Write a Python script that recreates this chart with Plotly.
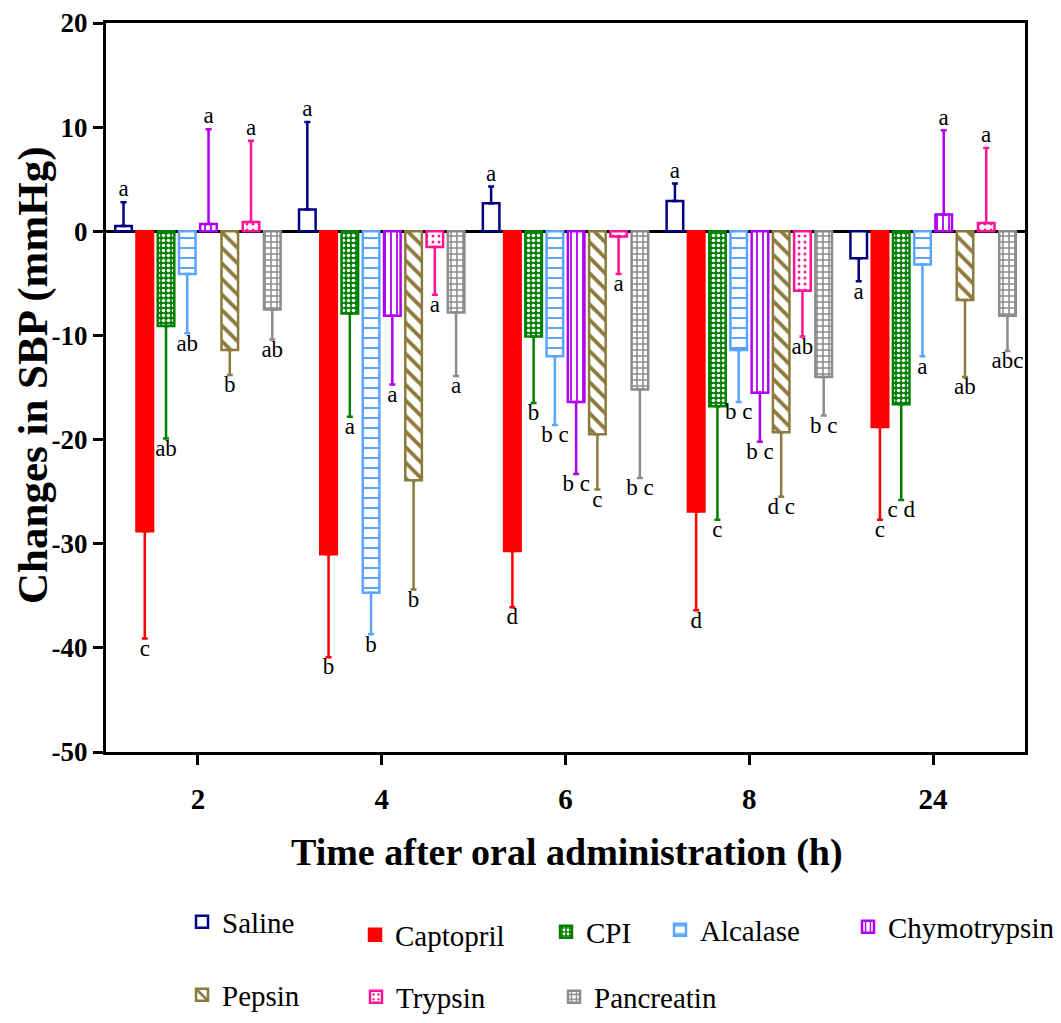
import plotly.graph_objects as go

times = ["2", "4", "6", "8", "24"]
series = ["Saline", "Captopril", "CPI", "Alcalase", "Chymotrypsin", "Pepsin", "Trypsin", "Pancreatin"]
y_tick_vals = [20, 10, 0, -10, -20, -30, -40, -50]
y_tick_text = ["20", "10", "0", "-10", "-20", "-30", "-40", "-50"]

saline = [0.5, 2.1, 2.7, 2.9, -2.6]
saline_err = [2.3, 8.4, 1.6, 1.7, 2.2]
saline_lbl = ["a", "a", "a", "a", "a"]

captopril = [-28.8, -31.0, -30.7, -26.9, -18.8]
captopril_err = [10.3, 9.9, 5.4, 9.5, 8.9]
captopril_lbl = ["c", "b", "d", "d", "c"]

cpi = [-9.1, -7.9, -10.1, -16.8, -16.6]
cpi_err = [10.8, 9.9, 6.4, 10.9, 9.2]
cpi_lbl = ["ab", "a", "b", "c", "c d"]

alcalase = [-4.1, -34.7, -12.0, -11.4, -3.2]
alcalase_err = [5.7, 4.0, 6.6, 5.0, 8.8]
alcalase_lbl = ["ab", "b", "b c", "b c", "a"]

chymotrypsin = [0.7, -8.1, -16.4, -15.5, 1.6]
chymotrypsin_err = [9.1, 6.6, 6.9, 4.7, 8.1]
chymotrypsin_lbl = ["a", "a", "b c", "b c", "a"]

pepsin = [-11.4, -23.9, -19.5, -19.3, -6.6]
pepsin_err = [2.4, 10.5, 5.3, 6.2, 7.4]
pepsin_lbl = ["b", "b", "c", "d c", "ab"]

trypsin = [0.9, -1.5, -0.5, -5.7, 0.8]
trypsin_err = [7.8, 4.6, 3.6, 4.4, 7.2]
trypsin_lbl = ["a", "a", "a", "ab", "a"]

pancreatin = [-7.5, -7.8, -15.2, -14.0, -8.1]
pancreatin_err = [2.9, 6.1, 8.5, 3.7, 3.4]
pancreatin_lbl = ["ab", "a", "b c", "b c", "abc"]

values = [saline, captopril, cpi, alcalase, chymotrypsin, pepsin, trypsin, pancreatin]
errors = [saline_err, captopril_err, cpi_err, alcalase_err, chymotrypsin_err, pepsin_err, trypsin_err, pancreatin_err]
letters = [saline_lbl, captopril_lbl, cpi_lbl, alcalase_lbl, chymotrypsin_lbl, pepsin_lbl, trypsin_lbl, pancreatin_lbl]

colors = ["#000080", "#FF0000", "#008000", "#5AA5FF", "#B000F0", "#8C7B3C", "#FF1493", "#8C8C8C"]
fills = ["white", "#FF0000", "#008000", "white", "white", "white", "white", "white"]
patterns = [
    dict(shape=""),
    dict(shape=""),
    dict(shape=".", bgcolor="#008000", fgcolor="white", size=5, solidity=0.4, fillmode="replace"),
    dict(shape="-", bgcolor="white", fgcolor="#5AA5FF", size=10, solidity=0.2, fillmode="replace"),
    dict(shape="|", bgcolor="white", fgcolor="#B000F0", size=6, solidity=0.3, fillmode="replace"),
    dict(shape="\\", bgcolor="white", fgcolor="#8C7B3C", size=11, solidity=0.35, fillmode="replace"),
    dict(shape=".", bgcolor="white", fgcolor="#FF1493", size=6, solidity=0.2, fillmode="replace"),
    dict(shape="+", bgcolor="white", fgcolor="#8C8C8C", size=6, solidity=0.45, fillmode="replace"),
]

# legend text start (x) and text centre (y) in page pixels
leg_pos = [(223, 924), (396, 937), (587, 934), (701, 932), (889, 929),
           (223, 997), (397, 999), (595, 999)]

SERIF = "Liberation Serif, Times New Roman, serif"
PAGE_OFF = 8           # default body margin of the page
W, H = 1061 - 2 * PAGE_OFF, 1023 - 2 * PAGE_OFF
BARGAP = 0.075

fig = go.Figure()
for i, name in enumerate(series):
    v = values[i]
    e = errors[i]
    plus = [ee if vv >= 0 else 0 for vv, ee in zip(v, e)]
    minus = [ee if vv < 0 else 0 for vv, ee in zip(v, e)]
    lg = "legend" if i == 0 else f"legend{i+1}"
    fig.add_trace(go.Bar(
        x=times, y=v, name=name, offsetgroup=name, legend=lg,
        marker=dict(color=fills[i], line=dict(color=colors[i], width=2.5), pattern=patterns[i]),
        error_y=dict(type="data", symmetric=False, array=plus, arrayminus=minus,
                     color=colors[i], thickness=2.5, width=3),
    ))
for i, name in enumerate(series):
    v = values[i]
    e = errors[i]
    ypos = [vv + ee if vv >= 0 else vv - ee for vv, ee in zip(v, e)]
    tpos = ["top center" if vv >= 0 else "bottom center" for vv in v]
    fig.add_trace(go.Scatter(
        x=times, y=ypos, mode="text", text=letters[i], textposition=tpos,
        textfont=dict(family=SERIF, size=23, color="black"),
        offsetgroup=name, showlegend=False, cliponaxis=False, hoverinfo="skip",
    ))

layout_legends = {}
for i, (px, py) in enumerate(leg_pos):
    key = "legend" if i == 0 else f"legend{i+1}"
    layout_legends[key] = dict(
        x=(px - 41 - PAGE_OFF) / W, y=1 - (py - PAGE_OFF - 2) / H,
        xref="container", yref="container",
        xanchor="left", yanchor="middle", orientation="h",
        font=dict(family=SERIF, size=29, color="black"),
        bgcolor="rgba(0,0,0,0)", borderwidth=0,
    )

# plot area in page pixels: x 106..1025, y 23..752
PL, PR, PT, PB = 106, 1025, 23, 752
fig.update_layout(
    width=W, height=H,
    margin=dict(l=PL - PAGE_OFF, r=W + PAGE_OFF - PR, t=PT - PAGE_OFF, b=H + PAGE_OFF - PB, autoexpand=False),
    plot_bgcolor="white", paper_bgcolor="white",
    barmode="group", bargap=BARGAP, bargroupgap=0.22,
    scattermode="group", scattergap=BARGAP,
    font=dict(family=SERIF, color="black"),
    annotations=[
        dict(text="<b>Changes in SBP (mmHg)</b>", textangle=-90, showarrow=False,
             xref="paper", yref="paper", x=(33 - PL) / (PR - PL), y=(PB - 375) / (PB - PT),
             xanchor="center", yanchor="middle",
             font=dict(family=SERIF, size=43, color="black")),
        dict(text="<b>Time after oral administration (h)</b>", showarrow=False,
             xref="paper", yref="paper", x=(567 - PL) / (PR - PL), y=(PB - 852) / (PB - PT),
             xanchor="center", yanchor="middle",
             font=dict(family=SERIF, size=38, color="black")),
    ],
    **layout_legends,
)
fig.update_xaxes(
    type="category", categoryorder="array", categoryarray=times,
    showline=True, linecolor="black", linewidth=3, mirror=True,
    ticks="outside", ticklen=10, tickwidth=3, tickcolor="black",
    tickfont=dict(family=SERIF, size=29, color="black", weight="bold"),
    ticklabelstandoff=9,
    showgrid=False, automargin=False,
)
fig.update_yaxes(
    range=[-50, 20], tickvals=y_tick_vals, ticktext=y_tick_text,
    showline=True, linecolor="black", linewidth=3, mirror=True,
    ticks="outside", ticklen=10, tickwidth=3, tickcolor="black",
    tickfont=dict(family=SERIF, size=27, color="black", weight="bold"),
    ticklabeloverflow="allow",
    showgrid=False, zeroline=True, zerolinecolor="black", zerolinewidth=2.5,
    automargin=False,
)
fig.write_html("out.html")
